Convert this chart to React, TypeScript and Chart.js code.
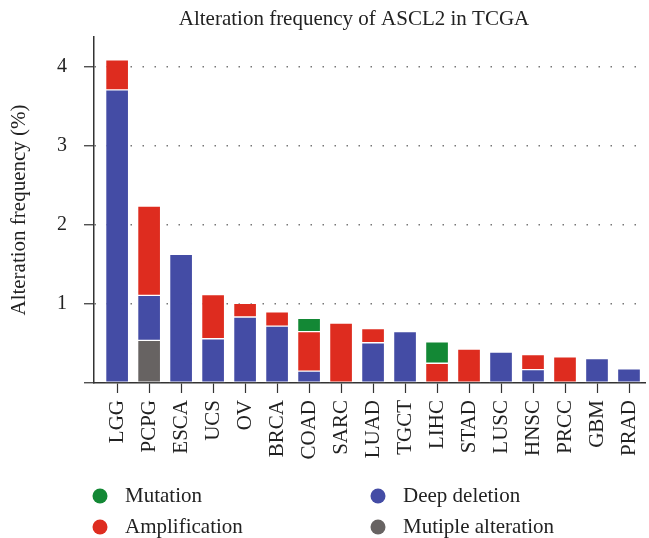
import React, { useEffect, useRef } from "react";
import { Chart, registerables } from "chart.js";

Chart.register(...registerables);

const categories = ["LGG", "PCPG", "ESCA", "UCS", "OV", "BRCA", "COAD", "SARC", "LUAD", "TGCT", "LIHC", "STAD", "LUSC", "HNSC", "PRCC", "GBM", "PRAD"];
const multipleAlteration = [null, 0.54, null, null, null, null, null, null, null, null, null, null, null, null, null, null, null];
const deepDeletion = [3.71, 0.57, 1.63, 0.56, 0.835, 0.72, 0.15, null, 0.51, 0.65, null, null, 0.39, 0.17, null, 0.31, 0.18];
const amplification = [0.38, 1.13, null, 0.56, 0.175, 0.18, 0.5, 0.76, 0.18, null, 0.25, 0.43, null, 0.19, 0.33, null, null];
const mutation = [null, null, null, null, null, null, 0.17, null, null, null, 0.27, null, null, null, null, null, null];
const yTicks = [1, 2, 3, 4];

const FONT = "'Liberation Serif', 'Times New Roman', serif";
const COLORS = {
  mutation: "#138835",
  deep: "#444ca5",
  amp: "#de2c1f",
  multi: "#676362",
};

const legendItems = [
  { label: "Mutation", color: COLORS.mutation, col: 0, row: 0 },
  { label: "Deep deletion", color: COLORS.deep, col: 1, row: 0 },
  { label: "Amplification", color: COLORS.amp, col: 0, row: 1 },
  { label: "Mutiple alteration", color: COLORS.multi, col: 1, row: 1 },
];

const toPoints = (arr: (number | null)[]) => arr.map((v, i) => ({ x: i, y: v }));

const decorPlugin = {
  id: "decor",
  afterDraw(chart: any) {
    const ctx = chart.ctx;
    ctx.save();
    ctx.fillStyle = "#222";
    ctx.font = `21px ${FONT}`;
    ctx.textAlign = "center";
    ctx.textBaseline = "middle";
    ctx.fillText("Alteration frequency of ASCL2 in TCGA", 354, 19);

    ctx.font = `21px ${FONT}`;
    ctx.textAlign = "left";
    const colX = [100, 378];
    const rowY = [496, 527];
    legendItems.forEach((it) => {
      const cx = colX[it.col];
      const cy = rowY[it.row];
      ctx.beginPath();
      ctx.fillStyle = it.color;
      ctx.arc(cx, cy, 7.5, 0, Math.PI * 2);
      ctx.fill();
      ctx.fillStyle = "#222";
      ctx.fillText(it.label, cx + 25, cy);
    });
    ctx.restore();
  },
};

export default function App() {
  const ref = useRef<HTMLCanvasElement>(null);
  useEffect(() => {
    if (!ref.current) return;
    const common = { borderColor: "rgba(255,255,255,0.3)", borderWidth: 1, barThickness: 23, borderSkipped: false as any };
    const chart = new Chart(ref.current, {
      type: "bar",
      data: {
        datasets: [
          { label: "Mutiple alteration", data: toPoints(multipleAlteration) as any, backgroundColor: COLORS.multi, ...common },
          { label: "Deep deletion", data: toPoints(deepDeletion) as any, backgroundColor: COLORS.deep, ...common },
          { label: "Amplification", data: toPoints(amplification) as any, backgroundColor: COLORS.amp, ...common },
          { label: "Mutation", data: toPoints(mutation) as any, backgroundColor: COLORS.mutation, ...common },
        ],
      },
      options: {
        responsive: false,
        animation: false,
        devicePixelRatio: 1,
        layout: { padding: { top: 37, right: 4, bottom: 70, left: 0 } },
        plugins: { legend: { display: false }, tooltip: { enabled: false }, title: { display: false } },
        scales: {
          x: {
            type: "linear",
            stacked: true,
            offset: false,
            min: -0.723,
            max: 16.5,
            afterFit: (s: any) => { s.height = 85; s.paddingLeft = 0; s.paddingRight = 0; },
            afterBuildTicks: (s: any) => { s.ticks = categories.map((_, i) => ({ value: i })); },
            ticks: {
              autoSkip: false,
              minRotation: 90,
              maxRotation: 90,
              padding: 7,
              color: "#222",
              font: { family: FONT, size: 21 },
              callback: (v: any) => categories[Math.round(Number(v))] ?? "",
            },
            grid: { offset: false, drawOnChartArea: false, drawTicks: true, tickLength: 10, tickColor: "#333", tickWidth: 1.2 },
            border: { display: true, color: "#333", width: 1.5 },
          },
          y: {
            stacked: true,
            min: 0,
            max: 4.38,
            afterFit: (s: any) => { s.width = 94; s.paddingTop = 0; s.paddingBottom = 0; },
            afterBuildTicks: (s: any) => { s.ticks = [0, ...yTicks].map((v) => ({ value: v })); },
            ticks: {
              includeBounds: false,
              padding: 17,
              color: "#222",
              font: { family: FONT, size: 20 },
              callback: (v: any) => (Number(v) === 0 ? "" : String(v)),
            },
            title: {
              display: true,
              text: "Alteration frequency (%)",
              color: "#222",
              font: { family: FONT, size: 21 },
              padding: { top: 7, bottom: 0 },
            },
            grid: {
              drawOnChartArea: true,
              color: (c: any) => (c.tick && c.tick.value === 0 ? "rgba(0,0,0,0)" : "#777"),
              lineWidth: 1.5,
              tickLength: 10,
              tickColor: "#333",
              tickWidth: 1.2,
            },
            border: { display: true, color: "#333", width: 1.5, dash: [1.5, 10.5] },
          },
        },
      },
      plugins: [decorPlugin],
    });
    return () => chart.destroy();
  }, []);
  return (
    <canvas
      ref={ref}
      width={649}
      height={538}
      style={{ position: "absolute", left: 0, top: 0, width: 649, height: 538 }}
    />
  );
}
